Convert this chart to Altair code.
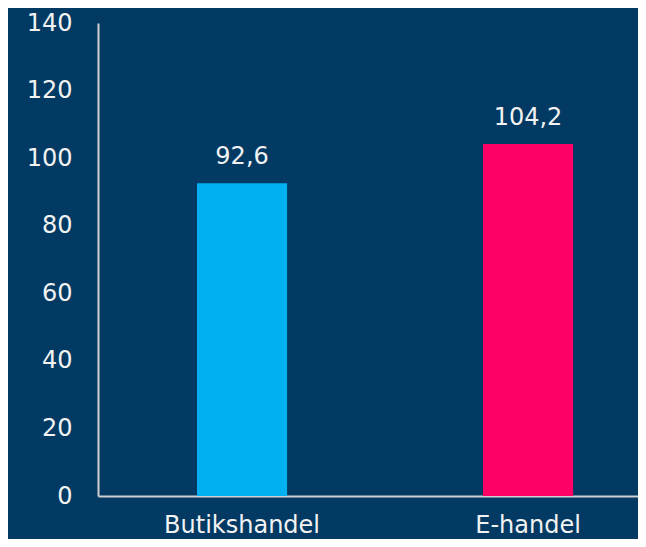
import altair as alt
import pandas as pd

categories = ["Butikshandel", "E-handel"]
values = [92.6, 104.2]
colors = ["#00b0f0", "#ff0066"]

df = pd.DataFrame({"kategori": categories, "varde": values})

FONT = "DejaVu Sans"
TXT = "#f2f2f2"

x = alt.X(
    "kategori:N",
    sort=categories,
    title=None,
    scale=alt.Scale(paddingInner=0.685, paddingOuter=0.2866, align=0.604),
    axis=alt.Axis(labelAngle=0, ticks=False, labelPadding=17, domainColor="#d0d0d0",
                  domainWidth=2, labelFontSize=24, labelColor=TXT, labelFont=FONT),
)
y = alt.Y(
    "varde:Q",
    title=None,
    scale=alt.Scale(domain=[0, 140], nice=False),
    axis=alt.Axis(values=[0, 20, 40, 60, 80, 100, 120, 140], ticks=False, grid=False,
                  labelPadding=26, domainColor="#d0d0d0", domainWidth=2,
                  labelFontSize=24, labelColor=TXT, labelFont=FONT),
)

base = alt.Chart(df)
bars = base.mark_bar().encode(
    x=x, y=y,
    color=alt.Color("kategori:N", scale=alt.Scale(domain=categories, range=colors), legend=None),
)
text = base.transform_calculate(
    lab="replace(format(datum.varde, '.1f'), '.', ',')"
).mark_text(baseline="alphabetic", dy=-19, fontSize=24, color=TXT, font=FONT).encode(
    x=x, y=y, text="lab:N"
)

chart = (bars + text).properties(
    width=540, height=473, background="#023a63",
    autosize=alt.AutoSizeParams(type="none"),
    padding={"left": 90, "top": 15, "right": 0, "bottom": 43},
).configure_view(stroke=None)

chart.save("out.html", embed_options={"renderer": "svg", "actions": False})
